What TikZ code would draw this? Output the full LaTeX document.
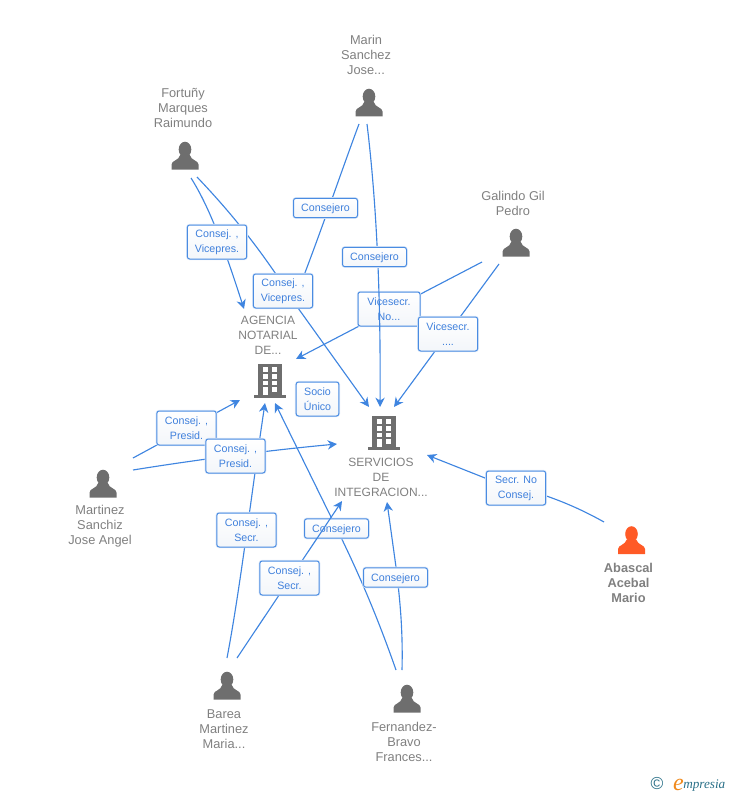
\documentclass[tikz,border=0pt]{standalone}
\usepackage{fontspec}
\setmainfont{Liberation Sans}
\usetikzlibrary{arrows.meta,calc,backgrounds}
\definecolor{edgeblue}{HTML}{3F85E0}
\definecolor{labelblue}{HTML}{3F80DC}
\definecolor{boxblue}{HTML}{4A8CE2}
\definecolor{glow}{HTML}{DCE8F8}
\definecolor{boxlow}{HTML}{F3F6FA}
\definecolor{iconGray}{HTML}{6E6E6E}
\definecolor{nameGray}{HTML}{808080}
\definecolor{orangeIcon}{HTML}{FF5A26}
\definecolor{logoTeal}{HTML}{2A7088}
\definecolor{logoOrange}{HTML}{F08A1D}
\tikzset{
  x=0.75pt,y=-0.75pt,
  link/.style={draw=edgeblue,line width=0.85pt,-{Stealth[length=7pt,width=7pt,inset=2.2pt]}},
  rolebox/.style={draw=boxblue,top color=white,bottom color=boxlow,rounded corners=1.8pt,line width=0.75pt,text=labelblue,
    font=\fontsize{8}{11.25}\selectfont,align=center,inner sep=0pt,minimum width=44.5pt,minimum height=25.5pt,
    preaction={draw=glow,line width=1.8pt},execute at begin node={\rule{0pt}{7.4pt}}},
  roleshort/.style={rolebox,minimum width=48pt,minimum height=14.5pt},
  iconslot/.style={inner sep=0pt,minimum size=24pt},
  whoname/.style={text=nameGray,font=\fontsize{9.6}{11.25}\selectfont,align=center,inner sep=0pt},
  firmname/.style={whoname,font=\fontsize{9}{11.25}\selectfont},
  whobold/.style={whoname,font=\fontsize{9.6}{11.25}\selectfont\bfseries},
  pics/personicon/.style={code={
    \fill[#1] (0,-6.5) ellipse (6.3 and 7.8);
    \fill[#1] (-13.5,13.5) -- (-13.5,8.5) .. controls (-13.5,4.5) and (-6,4.5) .. (-4.8,-1) -- (4.8,-1)
      .. controls (6,4.5) and (13.5,4.5) .. (13.5,8.5) -- (13.5,13.5) -- cycle;
  }},
  pics/buildingicon/.style={code={
    \fill[iconGray] (-11.7,-17) rectangle (11.7,14);
    \fill[iconGray] (-16,14) rectangle (16,16.5);
    \foreach \cy/\ch in {-13.7/4.5,-7/4.7,-0.3/4.7}{
      \fill[white] (-7.4,\cy) rectangle (-2,\cy+\ch);
      \fill[white] (2,\cy) rectangle (7.4,\cy+\ch);
    }
    \fill[white] (-7.4,6.3) rectangle (-2,14);
    \fill[white] (2,6.3) rectangle (7.4,11);
  }}
}
\begin{document}
\begin{tikzpicture}
\useasboundingbox (0,0) rectangle (728,795);
% icons
\node[iconslot] (marin) at (369,103) {};
\node[iconslot] (fortuny) at (185,156) {};
\node[iconslot] (galindo) at (516,243) {};
\node[iconslot] (martinez) at (103,484) {};
\node[iconslot] (abascal) at (631.5,540.5) {};
\node[iconslot] (barea) at (227,686) {};
\node[iconslot] (fernandez) at (407,699) {};
\node[iconslot] (agencia) at (270,381) {};
\node[iconslot] (servicios) at (384,433) {};
\pic at (marin) {personicon=iconGray};
\pic at (fortuny) {personicon=iconGray};
\pic at (galindo) {personicon=iconGray};
\pic at (martinez) {personicon=iconGray};
\pic at (abascal) {personicon=orangeIcon};
\pic at (barea) {personicon=iconGray};
\pic at (fernandez) {personicon=iconGray};
\pic at (agencia) {buildingicon};
\pic at (servicios) {buildingicon};
% names
\node[whoname] (nmarin) at (366,55) {Marin\\Sanchez\\Jose...};
\node[whoname] (nfortuny) at (183,108) {Fortuñy\\Marques\\Raimundo};
\node[whoname] (ngalindo) at (513,203.5) {Galindo Gil\\Pedro};
\node[whoname] (nmartinez) at (100,526) {Martinez\\Sanchiz\\Jose Angel};
\node[whobold] (nabascal) at (628.5,583) {Abascal\\Acebal\\Mario};
\node[whoname] (nbarea) at (224,729) {Barea\\Martinez\\Maria...};
\node[whoname] (nfernandez) at (404,742) {Fernandez-\\Bravo\\Frances...};
\node[firmname] (nagencia) at (268,335) {AGENCIA\\NOTARIAL\\DE...};
\node[firmname] (nservicios) at (381,477) {SERVICIOS\\DE\\INTEGRACION...};
% connectors below every label
\begin{pgfonlayer}{background}
\draw[link] ($(fortuny)+(6,22)$) .. controls ($(fortuny)+(25,52)$) and ($(fortuny)+(40,94)$) .. ($(agencia)+(-26,-72)$);
\draw[link] ($(fortuny)+(12,21)$) .. controls ($(fortuny)+(55,66)$) and ($(fortuny)+(85,107)$) .. ($(fortuny)+(113,152)$) -- ($(servicios)+(-15,-26)$);
\draw[link] ($(marin)+(-10,21)$) .. controls ($(marin)+(-29,72)$) and ($(marin)+(-49,132)$) .. ($(agencia)+(21,-72)$);
\draw[link] ($(galindo)+(-34,19)$) -- ($(agencia)+(26,-22)$);
\draw[link] ($(galindo)+(-17,21)$) -- ($(servicios)+(10,-26)$);
\draw[link] ($(martinez)+(30,-26)$) -- ($(agencia)+(-30,19)$);
\draw[link] ($(martinez)+(30,-14)$) .. controls ($(martinez)+(67,-20)$) and ($(martinez)+(147,-32)$) .. ($(servicios)+(-47,11)$);
\draw[link] ($(barea)+(0,-28)$) .. controls ($(barea)+(13,-96)$) and ($(barea)+(25,-196)$) .. ($(agencia)+(-5,22)$);
\draw[link] ($(fernandez)+(-11,-29)$) .. controls ($(fernandez)+(-32,-89)$) and ($(fernandez)+(-52,-134)$) .. ($(fernandez)+(-76,-182)$) -- ($(agencia)+(5,22)$);
\draw[link] ($(fernandez)+(-5,-29)$) .. controls ($(fernandez)+(-4,-69)$) and ($(fernandez)+(-7,-99)$) .. ($(fernandez)+(-11,-132)$) -- ($(servicios)+(3,69)$);
\draw[link] ($(abascal)+(-27.5,-18.5)$) .. controls ($(abascal)+(-61.5,-37.5)$) and ($(abascal)+(-91.5,-48.5)$) .. ($(abascal)+(-146.5,-62.5)$) -- ($(servicios)+(43,22)$);
\end{pgfonlayer}
% labels that two connectors cross
\node[rolebox,minimum width=46.5pt] (r5) at (389,309) {Vicesecr.\\No...};
\node[roleshort] (r12) at (336.5,528.5) {Consejero};
% connectors above those labels
\draw[link] ($(marin)+(-2,21)$) .. controls ($(marin)+(6,87)$) and ($(marin)+(12,177)$) .. ($(servicios)+(-4,-26)$);
\draw[link] ($(barea)+(10,-28)$) -- ($(servicios)+(-42,68)$);
% remaining labels
\node[rolebox] (r1) at (217,242) {Consej. ,\\Vicepres.};
\node[rolebox] (r2) at (283,291) {Consej. ,\\Vicepres.};
\node[roleshort] (r3) at (325.5,208) {Consejero};
\node[roleshort] (r4) at (374.5,257) {Consejero};
\node[rolebox] (r6) at (448,334) {Vicesecr.\\....};
\node[rolebox] (r7) at (186.5,428) {Consej. ,\\Presid.};
\node[rolebox] (r8) at (235.5,456) {Consej. ,\\Presid.};
\node[rolebox,minimum width=32pt] (r9) at (317.5,399) {Socio\\Único};
\node[rolebox] (r10) at (246.5,530) {Consej. ,\\Secr.};
\node[rolebox] (r11) at (289.5,578) {Consej. ,\\Secr.};
\node[roleshort] (r13) at (395.5,577.5) {Consejero};
\node[rolebox] (r14) at (516,488) {Secr.  No\\Consej.};
% logo
\node[inner sep=0pt,text=logoTeal,font=\fontsize{13}{13}\selectfont] (logoc) at (657,784) {©};
\node[inner sep=0pt,anchor=base west,text=logoTeal,font=\fontsize{9.9}{11}\fontspec{Liberation Serif}\itshape] (logot) at (683,788.5) {mpresia};
\node[inner sep=0pt,anchor=base east,text=logoOrange,font=\fontsize{18}{18}\fontspec{Liberation Serif}\itshape] (logoe) at (684,790.5) {e};
\end{tikzpicture}
\end{document}
